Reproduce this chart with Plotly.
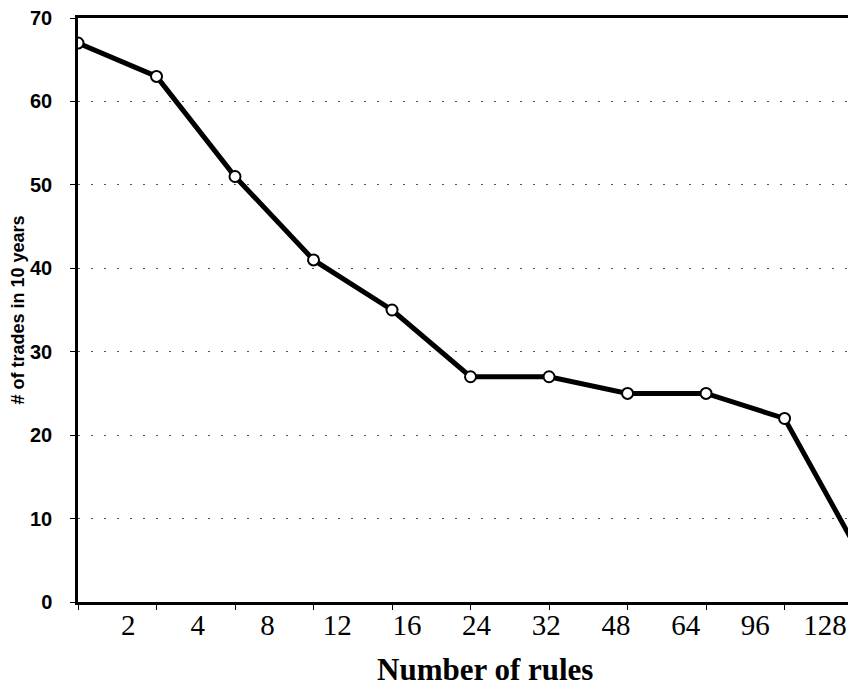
import plotly.graph_objects as go

# -----------------------------
# DATA
# -----------------------------
rule_labels = ["2", "4", "8", "12", "16", "24", "32", "48", "64", "96", "128"]
trades = [67, 63, 51, 41, 35, 27, 27, 25, 25, 22, 5]
positions = list(range(len(trades)))

y_ticks = [0, 10, 20, 30, 40, 50, 60, 70]

# page body has an 8px margin, so the figure is sized/offset to fit the window
fig = go.Figure()

fig.add_trace(go.Scatter(
    x=positions,
    y=trades,
    mode="lines+markers",
    line=dict(color="black", width=5),
    marker=dict(symbol="circle", size=11, color="white",
                line=dict(color="black", width=2)),
    showlegend=False,
    hoverinfo="x+y",
))

# invisible trace so the label axis is drawn
fig.add_trace(go.Scatter(
    x=positions,
    y=[None] * len(positions),
    xaxis="x2",
    mode="markers",
    showlegend=False,
    hoverinfo="skip",
))

# -----------------------------
# LAYOUT
# -----------------------------
fig.update_layout(
    width=848,
    height=680,
    margin=dict(l=70, r=0, t=10, b=86),
    plot_bgcolor="white",
    paper_bgcolor="white",
    xaxis=dict(
        range=[0, 9.91],
        tickvals=positions,
        showticklabels=False,
        ticks="outside",
        ticklen=5,
        tickwidth=1,
        tickcolor="black",
        showline=True,
        linecolor="black",
        linewidth=2.5,
        mirror=True,
        showgrid=False,
        zeroline=False,
        automargin=False,
    ),
    xaxis2=dict(
        overlaying="x",
        side="bottom",
        range=[-0.72, 10.445],
        tickvals=positions,
        ticktext=rule_labels,
        ticks="",
        showline=False,
        showgrid=False,
        zeroline=False,
        automargin=False,
        ticklabeloverflow="allow",
        tickfont=dict(family="Liberation Serif", size=29, color="black"),
        ticklabelstandoff=3,
    ),
    yaxis=dict(
        range=[0, 70],
        tickvals=y_ticks,
        ticks="outside",
        ticklen=5,
        tickwidth=1,
        tickcolor="black",
        showline=True,
        linecolor="black",
        linewidth=2.5,
        showgrid=True,
        gridcolor="#555555",
        gridwidth=1,
        griddash="2px,11px",
        zeroline=False,
        automargin=False,
        ticklabeloverflow="allow",
        tickfont=dict(family="Liberation Sans", size=20, color="black", weight="bold"),
        ticklabelstandoff=14,
        title=dict(
            text="# of trades in 10 years",
            font=dict(family="Liberation Sans", size=18, color="black", weight="bold"),
            standoff=12,
        ),
    ),
    annotations=[
        dict(
            text="<b>Number of rules</b>",
            xref="paper", yref="paper",
            x=(485 - 78) / 778, y=-(668 - 601) / 584,
            xanchor="center", yanchor="middle",
            showarrow=False,
            font=dict(family="Liberation Serif", size=31, color="black"),
        )
    ],
)

fig.write_html("out.html")
